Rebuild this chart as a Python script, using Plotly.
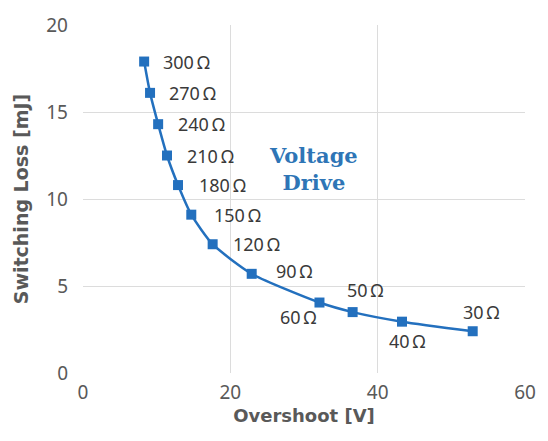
import plotly.graph_objects as go

overshoot = [8.3, 9.1, 10.2, 11.4, 12.9, 14.7, 17.6, 22.9, 32.1, 36.6, 43.3, 52.9]
loss = [17.9, 16.1, 14.3, 12.5, 10.8, 9.1, 7.4, 5.7, 4.05, 3.5, 2.95, 2.4]
labels = ["300\u2009Ω", "270\u2009Ω", "240\u2009Ω", "210\u2009Ω", "180\u2009Ω", "150\u2009Ω",
          "120\u2009Ω", "90\u2009Ω", "60\u2009Ω", "50\u2009Ω", "40\u2009Ω", "30\u2009Ω"]

# label offsets (pixels) relative to each marker
offsets = [(42, 0), (42, 0), (43, 0), (44, 0), (44, 0), (46, 0),
           (44, 0), (43, 3), (-21, -14), (13, 22), (6, -19), (9, 19)]

blue = "#2370BE"
gray = "#595959"

fig = go.Figure()
fig.add_trace(go.Scatter(
    x=overshoot, y=loss, mode="lines+markers",
    line=dict(color=blue, width=2.5, shape="spline", smoothing=0.6),
    marker=dict(symbol="square", size=10, color=blue),
    hoverinfo="skip", showlegend=False,
))

for xv, yv, lab, (dx, dy) in zip(overshoot, loss, labels, offsets):
    fig.add_annotation(x=xv, y=yv, text=lab, showarrow=False,
                       xshift=dx, yshift=dy,
                       font=dict(family="Noto Sans", size=18, color="#3A3A3A"))

fig.add_annotation(x=31.3, y=11.75, text="<b>Voltage<br>Drive</b>", showarrow=False,
                   font=dict(family="DejaVu Serif", size=21, color="#2E75B6"),
                   align="center")

fig.update_layout(
    width=548, height=441,
    margin=dict(l=83, r=20, t=18, b=68),
    paper_bgcolor="white", plot_bgcolor="white",
    font=dict(family="Noto Sans", color=gray),
    xaxis=dict(range=[0, 60], dtick=20, showgrid=True, gridcolor="#DCDCDC", gridwidth=1,
               zeroline=False, showline=False, ticks="", ticklabelstandoff=6,
               tickfont=dict(size=19, color=gray, family="Noto Sans"),
               title=dict(text="<b>Overshoot [V]</b>", standoff=5,
                          font=dict(size=18, color=gray, family="DejaVu Sans"))),
    yaxis=dict(range=[0, 20], dtick=5, showgrid=True, gridcolor="#DCDCDC", gridwidth=1,
               zeroline=False, showline=False, ticks="", ticklabelstandoff=14,
               tickfont=dict(size=19, color=gray, family="Noto Sans"),
               title=dict(text="<b>Switching Loss [mJ]</b>", standoff=12,
                          font=dict(size=19, color=gray, family="DejaVu Sans"))),
)

fig.write_html("out.html")
